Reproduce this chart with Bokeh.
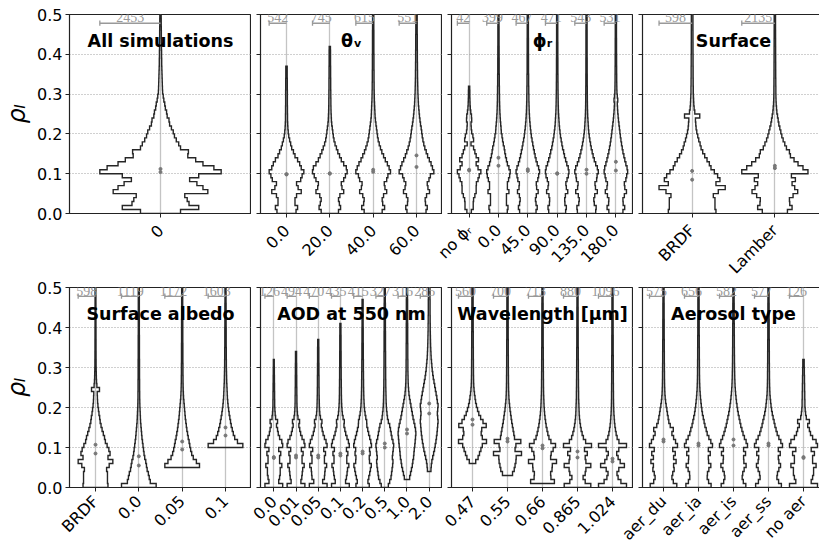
import math
from bokeh.plotting import figure
from bokeh.layouts import column, row
from bokeh.models import (FixedTicker, Label, LabelSet, ColumnDataSource, Range1d,
                          PrintfTickFormatter)
from bokeh.embed import file_html
from bokeh.resources import INLINE

BIN = 0.01  # histogram bin height in rho_l

# ---------------- data: relative histogram widths (per violin, bins of 0.01 from start) --------
w_all = [33, 63, 47, 44, 40, 78, 70, 60, 48, 63, 100, 88, 70, 58, 45, 46, 33, 30, 26, 23, 21, 18, 15, 14, 11,
         10, 8, 7, 5.5, 4.5, 3.5, 3.2, 3, 2.8, 2.6, 2.4, 2.2, 2, 2, 1.8, 1.8, 1.6, 1.6, 1.5, 1.4, 1.4, 1.3, 1.2, 1.2, 1.1]

w_tv0 = [55, 64, 49, 49, 58, 85, 67, 58, 82, 90, 100, 85, 76, 64, 49, 40, 30, 24, 18, 13, 10, 8, 7, 6, 6,
         5.5, 5.5, 5, 5, 5, 5, 4.5, 4.5, 4.5, 4, 4, 4]
w_tv20 = [50, 62, 55, 50, 58, 80, 70, 66, 80, 90, 100, 95, 80, 66, 56, 46, 38, 30, 24, 20, 17, 14, 11, 9, 8,
          7, 6.5, 6, 6, 5.5, 5.5, 5, 5, 5, 4.5, 4.5, 4.5, 4, 4, 4, 4, 3.5]
w_tv40 = [52, 66, 55, 52, 60, 78, 68, 64, 78, 85, 100, 92, 82, 70, 60, 50, 42, 35, 29, 25, 22, 19, 16, 13, 11,
          10, 9, 8, 7, 6.5, 6, 5.5, 5.5, 5, 5, 5, 4.5, 4.5, 4.5, 4.5, 4, 4, 4, 4, 4, 4, 3.5, 3.5, 3.5, 3.5]
w_tv60 = [55, 62, 52, 50, 58, 75, 66, 62, 72, 80, 100, 92, 84, 74, 64, 56, 48, 42, 37, 33, 30, 27, 23, 20, 17,
          15, 13, 11, 10, 9, 8, 7.5, 7, 6.5, 6, 6, 5.5, 5.5, 5, 5, 5, 4.5, 4.5, 4.5, 4.5, 4, 4, 4, 4, 4]

w_pr_none = [19, 35, 35, 38, 49, 60, 60, 62, 76, 86, 100, 76, 60, 80, 60, 49, 38, 16, 38, 32, 22, 18, 16, 22, 20,
             14, 10, 8, 7, 6, 6, 5]
w_pr0 = [75, 81, 68, 68, 68, 89, 76, 76, 86, 95, 100, 89, 76, 68, 60, 54, 49, 41, 35, 30, 24, 22, 19, 16, 14,
         12, 11, 10, 9, 9, 8, 8, 7, 7, 7, 6, 6, 6, 6, 5.5, 5.5, 5.5, 5, 5, 5, 5, 5, 4.5, 4.5, 4.5]
w_pr45 = [70, 80, 70, 65, 72, 88, 75, 72, 85, 92, 100, 92, 80, 70, 62, 55, 48, 42, 36, 30, 26, 22, 19, 16, 14,
          12, 11, 10, 9, 9, 8, 8, 7, 7, 7, 6, 6, 6, 6, 6, 5.5, 5.5, 5.5, 5.5, 5, 5, 5, 5, 5, 5]
w_pr90 = [72, 78, 66, 64, 70, 90, 78, 74, 84, 95, 100, 94, 82, 72, 62, 55, 46, 40, 34, 28, 24, 20, 17, 15, 13,
          11, 10, 9, 8.5, 8, 7.5, 7, 7, 6.5, 6.5, 6, 6, 6, 6, 5.5, 5.5, 5.5, 5.5, 5, 5, 5, 5, 5, 5, 5]
w_pr135 = [78, 82, 66, 62, 70, 92, 76, 72, 86, 90, 100, 92, 78, 66, 56, 48, 40, 34, 28, 23, 19, 16, 14, 12, 10,
           9, 8, 7.5, 7, 7, 6.5, 6.5, 6, 6, 6, 5.5, 5.5, 5.5, 5.5, 5, 5, 5, 5, 5, 5, 5, 4.5, 4.5, 4.5, 4.5]
w_pr180 = [60, 75, 62, 60, 72, 90, 76, 72, 85, 92, 100, 95, 85, 76, 68, 60, 54, 48, 43, 38, 34, 30, 26, 22, 19,
           16, 14, 12, 16, 12, 9, 8, 7.5, 7, 7, 6.5, 6.5, 6, 6, 6, 5.5, 5.5, 5.5, 5.5, 5, 5, 5, 5, 5, 5]

w_brdf = [72, 69, 69, 69, 64, 79, 100, 72, 84, 77, 67, 57, 52, 45, 38, 32, 27, 24, 20, 17, 14, 12, 11, 10, 23,
          8, 6, 5, 4.5, 4, 3.5, 3.5, 3.2, 3.2, 3, 3, 3, 2.8, 2.8, 2.8, 2.6, 2.6, 2.6, 2.5, 2.5, 2.5, 2.4, 2.4, 2.4, 2.4]
w_lamb = [38, 52, 45, 44, 55, 69, 60, 52, 62, 50, 100, 85, 70, 58, 47, 44, 35, 30, 25, 21, 18, 15, 12, 10, 8,
          6, 5, 4, 3.5, 3.2, 3, 3, 2.8, 2.8, 2.6, 2.6, 2.5, 2.5, 2.4, 2.4, 2.3, 2.3, 2.2, 2.2, 2.1, 2.1, 2, 2, 2, 2]

w_alb0 = [100, 66, 60, 55, 48, 44, 40, 34, 30, 27, 24, 21, 18, 16, 14, 12, 10, 9, 8, 7, 6, 5.5, 5, 5, 4.5,
          4.5, 4.5, 4, 4, 4, 4, 4, 3.5, 3.5, 3.5, 3.5, 3.5, 3.5, 3, 3, 3, 3, 3, 3, 3, 3, 3, 3, 3, 3]
w_alb005 = [100, 82, 64, 55, 49, 44, 40, 35, 31, 27, 24, 21, 18, 16, 14, 12, 10, 8, 7, 6, 5.5, 5, 5, 4.5, 4.5,
            4.5, 4, 4, 4, 4, 4, 3.5, 3.5, 3.5, 3.5, 3.5, 3.5, 3, 3, 3, 3, 3, 3, 3, 3]
w_alb01 = [100, 69, 53, 45, 39, 33, 29, 25, 21, 18, 15, 13, 11, 10, 9, 8, 7, 6.5, 6, 5.5, 5, 5, 4.5, 4.5, 4.5,
           4, 4, 4, 4, 4, 3.5, 3.5, 3.5, 3.5, 3.5, 3.5, 3, 3, 3, 3]

w_aod0 = [100, 55, 65, 72, 72, 90, 65, 65, 78, 55, 100, 90, 65, 50, 42, 30, 42, 20, 15, 12, 10, 10, 9, 9, 8,
          8, 7, 7, 6, 6, 5, 5]
w_aod001 = [100, 55, 65, 70, 75, 92, 68, 68, 80, 60, 100, 90, 68, 52, 42, 32, 40, 22, 16, 13, 11, 10, 10, 9, 9,
            8, 8, 8, 7, 7, 7, 6, 6, 6]
w_aod005 = [100, 50, 70, 74, 78, 95, 70, 70, 82, 62, 100, 88, 70, 55, 45, 35, 42, 25, 18, 15, 13, 12, 11, 10, 10,
            9, 9, 9, 8, 8, 8, 7, 7, 7, 7, 6, 6]
w_aod01 = [100, 58, 68, 75, 80, 95, 72, 72, 84, 68, 100, 90, 74, 60, 50, 40, 44, 30, 22, 18, 15, 13, 12, 11, 11,
           10, 10, 9, 9, 9, 8, 8, 8, 8, 7, 7, 7, 7, 6, 6, 6]
w_aod02 = [75, 60, 70, 80, 88, 98, 78, 75, 85, 78, 100, 92, 80, 68, 58, 48, 46, 36, 28, 22, 18, 16, 14, 13, 12,
           11, 11, 10, 10, 9, 9, 9, 8, 8, 8, 8, 7, 7, 7, 7, 6, 6, 6, 6, 6, 6, 6]
w_aod05 = [40, 55, 70, 76, 82, 88, 92, 85, 90, 95, 100, 92, 80, 72, 64, 55, 40, 30, 25, 20, 17, 15, 14, 13, 12,
           11, 11, 10, 10, 10, 9, 9, 9, 9, 8, 8, 8, 8, 8, 7, 7, 7, 7, 7, 7, 7, 6, 6, 6, 6]
w_aod1 = [30, 40, 50, 60, 66, 74, 78, 82, 88, 92, 96, 100, 96, 88, 78, 68, 60, 52, 44, 36, 28, 22, 18, 15, 13,
          12, 11, 10, 10, 10, 9, 9, 9, 9, 8, 8, 8, 8, 8, 7, 7, 7, 7, 7, 7, 6, 6, 6]
w_aod2 = [20, 24, 30, 40, 50, 60, 68, 76, 82, 88, 92, 96, 100, 96, 92, 96, 100, 92, 86, 78, 70, 62, 54, 46, 40,
          34, 30, 26, 22, 20, 18, 16, 15, 14, 13, 12, 12, 11, 11, 10, 10, 10, 10, 9, 9, 9]

w_wl047 = [23, 40, 50, 60, 70, 100, 70, 62, 66, 98, 75, 58, 45, 36, 28, 22, 18, 14, 11, 9, 8, 7.5, 7, 7, 6.5,
           6.5, 6, 6, 6, 5.5, 5.5, 5.5, 5.5, 5, 5, 5, 5, 5, 5, 4.5, 4.5, 4.5, 4.5, 4.5]
w_wl055 = [36, 48, 54, 60, 62, 100, 54, 60, 95, 50, 45, 40, 35, 30, 26, 22, 18, 15, 12, 10, 9, 8, 7.5, 7, 7,
           6.5, 6.5, 6, 6, 6, 5.5, 5.5, 5.5, 5.5, 5, 5, 5, 5, 5, 5, 4.5, 4.5, 4.5, 4.5, 4.5, 4.5, 4.5]
w_wl066 = [85, 60, 58, 68, 70, 100, 58, 62, 76, 93, 60, 46, 38, 32, 26, 22, 18, 15, 13, 11, 10, 9, 8, 7.5, 7,
           7, 6.5, 6.5, 6, 6, 6, 5.5, 5.5, 5.5, 5, 5, 5, 5, 5, 4.5, 4.5, 4.5, 4.5, 4.5, 4.5, 4, 4, 4, 4]
w_wl0865 = [95, 55, 40, 55, 60, 95, 60, 55, 70, 50, 100, 58, 42, 33, 26, 21, 17, 14, 12, 11, 10, 9, 8, 8, 7.5,
            7, 7, 6.5, 6.5, 6, 6, 6, 5.5, 5.5, 5.5, 5, 5, 5, 5, 5, 4.5, 4.5, 4.5, 4.5, 4.5, 4, 4, 4, 4, 4]
w_wl1024 = [100, 60, 40, 32, 45, 85, 55, 40, 30, 45, 100, 46, 33, 26, 21, 17, 14, 12, 10, 9, 8, 7.5, 7, 7, 6.5,
            6.5, 6, 6, 6, 5.5, 5.5, 5.5, 5.5, 5, 5, 5, 5, 5, 4.5, 4.5, 4.5, 4.5, 4.5, 4, 4, 4, 4, 4, 4, 4]

w_du = [95, 70, 60, 66, 76, 72, 90, 72, 84, 66, 100, 86, 72, 60, 70, 48, 38, 33, 28, 24, 19, 15, 12, 10, 9,
        8, 7.5, 7, 7, 6.5, 6.5, 6, 6, 6, 5.5, 5.5, 5.5, 5, 5, 5, 5, 5, 4.5, 4.5, 4.5, 4.5, 4, 4, 4, 4]
w_ia = [90, 72, 62, 64, 74, 88, 72, 70, 84, 70, 100, 88, 74, 62, 55, 46, 40, 34, 28, 24, 20, 17, 14, 12, 10,
        9, 8, 7.5, 7, 7, 6.5, 6.5, 6, 6, 6, 5.5, 5.5, 5.5, 5, 5, 5, 5, 5, 4.5, 4.5, 4.5, 4.5, 4, 4, 4]
w_is = [88, 70, 62, 66, 76, 90, 74, 72, 86, 72, 100, 90, 78, 68, 60, 52, 46, 40, 34, 29, 25, 21, 18, 15, 13,
        11, 10, 9, 8.5, 8, 7.5, 7, 7, 6.5, 6.5, 6, 6, 6, 5.5, 5.5, 5.5, 5, 5, 5, 5, 5, 4.5, 4.5, 4.5, 4.5]
w_ss = [92, 72, 60, 64, 74, 86, 74, 70, 84, 70, 100, 88, 74, 62, 54, 46, 40, 33, 27, 22, 18, 15, 12, 10, 9,
        8, 7.5, 7, 7, 6.5, 6.5, 6, 6, 6, 5.5, 5.5, 5.5, 5, 5, 5, 5, 5, 4.5, 4.5, 4.5, 4.5, 4, 4, 4, 4]

# ---------------- panels ----------------
titles = ["All simulations", "θᵥ", "ϕᵣ", "Surface",
          "Surface albedo", "AOD at 550 nm", "Wavelength [μm]", "Aerosol type"]

labels_all = ["0"]
counts_all = [2453]
starts_all = [0.0]
means_all = [0.112]
medians_all = [0.104]

labels_tv = ["0.0", "20.0", "40.0", "60.0"]
counts_tv = [542, 745, 615, 551]
starts_tv = [0.0, 0.0, 0.0, 0.0]
means_tv = [0.099, 0.101, 0.110, 0.146]
medians_tv = [0.098, 0.100, 0.105, 0.117]

labels_pr = ["no ϕᵣ", "0.0", "45.0", "90.0", "135.0", "180.0"]
counts_pr = [42, 399, 467, 471, 543, 531]
starts_pr = [0.0, 0.0, 0.0, 0.0, 0.0, 0.0]
means_pr = [0.110, 0.140, 0.111, 0.101, 0.110, 0.130]
medians_pr = [0.108, 0.120, 0.107, 0.100, 0.100, 0.108]

labels_sf = ["BRDF", "Lamber"]
counts_sf = [598, 2135]
starts_sf = [0.0, 0.0]
means_sf = [0.107, 0.120]
medians_sf = [0.085, 0.114]

labels_alb = ["BRDF", "0.0", "0.05", "0.1"]
counts_alb = [598, 1119, 1172, 1603]
starts_alb = [0.0, 0.0, 0.05, 0.10]
means_alb = [0.107, 0.078, 0.115, 0.150]
medians_alb = [0.085, 0.055, 0.095, 0.130]

labels_aod = ["0.0", "0.01", "0.05", "0.1", "0.2", "0.5", "1.0", "2.0"]
counts_aod = [126, 494, 470, 435, 415, 327, 316, 285]
starts_aod = [0.0, 0.0, 0.0, 0.0, 0.0, 0.0, 0.02, 0.04]
means_aod = [0.076, 0.080, 0.080, 0.085, 0.090, 0.110, 0.145, 0.210]
medians_aod = [0.074, 0.075, 0.075, 0.080, 0.085, 0.100, 0.135, 0.185]

labels_wl = ["0.47", "0.55", "0.66", "0.865", "1.024"]
counts_wl = [560, 700, 713, 880, 1096]
starts_wl = [0.06, 0.03, 0.01, 0.0, 0.0]
means_wl = [0.170, 0.122, 0.105, 0.090, 0.072]
medians_wl = [0.157, 0.115, 0.098, 0.075, 0.065]

labels_at = ["aer_du", "aer_ia", "aer_is", "aer_ss", "no aer"]
counts_at = [575, 656, 582, 577, 126]
starts_at = [0.0, 0.0, 0.0, 0.0, 0.0]
means_at = [0.120, 0.110, 0.120, 0.110, 0.076]
medians_at = [0.115, 0.105, 0.105, 0.105, 0.074]

panels = [
    (labels_all, counts_all, starts_all, [w_all], means_all, medians_all),
    (labels_tv, counts_tv, starts_tv, [w_tv0, w_tv20, w_tv40, w_tv60], means_tv, medians_tv),
    (labels_pr, counts_pr, starts_pr, [w_pr_none, w_pr0, w_pr45, w_pr90, w_pr135, w_pr180], means_pr, medians_pr),
    (labels_sf, counts_sf, starts_sf, [w_brdf, w_lamb], means_sf, medians_sf),
    (labels_alb, counts_alb, starts_alb, [w_brdf, w_alb0, w_alb005, w_alb01], means_alb, medians_alb),
    (labels_aod, counts_aod, starts_aod, [w_aod0, w_aod001, w_aod005, w_aod01, w_aod02, w_aod05, w_aod1, w_aod2],
     means_aod, medians_aod),
    (labels_wl, counts_wl, starts_wl, [w_wl047, w_wl055, w_wl066, w_wl0865, w_wl1024], means_wl, medians_wl),
    (labels_at, counts_at, starts_at, [w_du, w_ia, w_is, w_ss, w_aod0], means_at, medians_at),
]

HALF = 0.4   # max half-width of each violin in category units
FONT = "DejaVu Sans"
OVER_X = 40   # canvas overlap to the left so rotated labels are not cut
OVER_Y = 24   # canvas overlap upward for the second row


def violin_outline(xc, y0, w):
    m = max(w)
    hw = [HALF * v / m for v in w]
    xs, ys = [], []
    for i, h in enumerate(hw):
        ya = y0 + i * BIN
        xs += [xc + h, xc + h]
        ys += [ya, ya + BIN]
    for i in reversed(range(len(hw))):
        ya = y0 + i * BIN
        xs += [xc - hw[i], xc - hw[i]]
        ys += [ya + BIN, ya]
    return xs, ys


def make_panel(idx):
    labels, counts, starts, widths, means, medians = panels[idx]
    col = idx % 4
    rowi = idx // 4
    n = len(labels)
    cx = list(range(n))
    mleft = 0 if col == 0 else -OVER_X
    mtop = 0 if rowi == 0 else -OVER_Y
    p = figure(frame_width=182, frame_height=199 if rowi == 0 else 200,
               x_range=Range1d(-0.6, n - 1 + 0.6), y_range=Range1d(0, 0.5),
               output_backend="svg", toolbar_location=None,
               min_border_left=64 if col == 0 else 9 + OVER_X, min_border_right=0,
               min_border_top=14,
               min_border_bottom=84 if rowi == 0 else 54,
               background_fill_color="white", border_fill_color=None,
               margin=(mtop, 0, 0, mleft))
    p.outline_line_color = "#222222"
    p.outline_line_width = 1.2

    # axes
    p.xaxis.ticker = FixedTicker(ticks=cx)
    p.xaxis.major_label_overrides = {i: lab for i, lab in enumerate(labels)}
    p.xaxis.major_label_orientation = math.pi / 4
    p.xaxis.major_label_text_font = FONT
    p.xaxis.major_label_text_font_size = "16px"
    p.xaxis.major_label_text_color = "black"
    p.xaxis.major_label_standoff = 10 if rowi == 0 else 7
    p.yaxis.ticker = FixedTicker(ticks=[0.0, 0.1, 0.2, 0.3, 0.4, 0.5])
    p.yaxis.formatter = PrintfTickFormatter(format="%.1f")
    p.yaxis.major_label_text_font = FONT
    p.yaxis.major_label_text_font_size = "16px"
    p.yaxis.major_label_text_color = "black"
    p.yaxis.major_label_standoff = 3
    for ax in (p.xaxis, p.yaxis):
        ax.axis_line_color = "#222222"
        ax.major_tick_line_color = "#222222"
        ax.major_tick_out = 4
        ax.major_tick_in = 0
        ax.minor_tick_line_color = None
    if col == 0:
        p.yaxis.axis_label = "ρₗ"
        p.yaxis.axis_label_text_font = FONT
        p.yaxis.axis_label_text_font_size = "24px"
        p.yaxis.axis_label_text_font_style = "italic"
        p.yaxis.axis_label_text_color = "black"
        p.yaxis.axis_label_standoff = 3
    else:
        p.yaxis.major_label_text_font_size = "1px"
        p.yaxis.major_label_text_color = None
        p.yaxis.major_label_standoff = 0

    # grids
    p.xgrid.grid_line_color = "#c4c4c4"
    p.xgrid.grid_line_width = 1.3
    p.ygrid.grid_line_color = "#a0a0a0"
    p.ygrid.grid_line_dash = "1 2"
    p.ygrid.grid_line_width = 1

    # violins
    vx, vy = [], []
    for c, y0, w in zip(cx, starts, widths):
        xs, ys = violin_outline(c, y0, w)
        vx.append(xs)
        vy.append(ys)
    p.patches(xs="xs", ys="ys", source=ColumnDataSource(dict(xs=vx, ys=vy)),
              fill_color=None, line_color="#262626", line_width=1.4, line_join="miter")

    p.scatter(x=cx + cx, y=means + medians, size=3, color="#777777")

    # count scale bars
    bx0 = [c - HALF for c in cx]
    p.segment(x0=bx0, y0=[0.478] * n, x1=cx, y1=[0.478] * n, line_color="#999999", line_width=1.3)
    p.segment(x0=bx0, y0=[0.472] * n, x1=bx0, y1=[0.485] * n, line_color="#999999", line_width=1.3)
    src = ColumnDataSource(dict(x=[c - HALF / 2 for c in cx], y=[0.480] * n, t=[str(v) for v in counts]))
    p.add_layout(LabelSet(x="x", y="y", text="t", source=src, text_align="center",
                          text_baseline="alphabetic", text_font=FONT, text_font_size="14px",
                          text_color="#999999"))

    p.add_layout(Label(x=(n - 1) / 2, y=0.433, text=titles[idx], text_align="center",
                       text_baseline="middle", text_font=FONT, text_font_style="bold",
                       text_font_size="17.5px", text_color="black"))
    return p


figs = [make_panel(i) for i in range(8)]
layout = column(row(*figs[:4]), row(*figs[4:]))

open("out.html", "w").write(file_html(layout, INLINE))
